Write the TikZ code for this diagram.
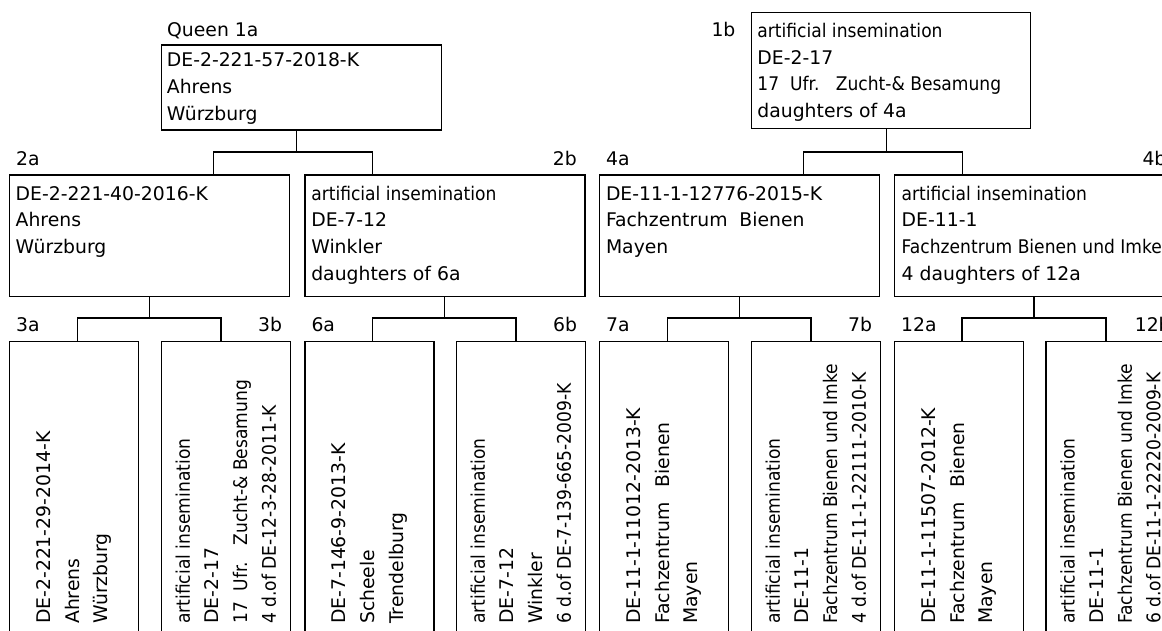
\documentclass[tikz,border=0pt]{standalone}
\usepackage{fontspec}
\setmainfont{DejaVu Sans}
\newfontfamily\cond[FakeStretch=0.91]{DejaVu Sans}
\usetikzlibrary{calc}
\newcommand\mystrut{\rule{0pt}{15pt}}
\tikzset{
  x=1pt, y=-1pt,
  box/.style={draw=black, line width=1.3pt, rectangle, inner sep=0pt, anchor=north west},
  wide/.style={box, minimum width=280pt, minimum height=121.4pt},
  narrow/.style={box, minimum width=129pt, minimum height=330pt},
  txt/.style={inner sep=0pt, align=left, anchor=north west, font=\fontsize{18.8pt}{26.6pt}\selectfont},
  rtxt/.style={inner sep=0pt, align=left, anchor=west, rotate=90, font=\fontsize{18.8pt}{28.6pt}\selectfont},
  lab/.style={inner sep=0pt, anchor=base west, font=\fontsize{18.8pt}{26.6pt}\selectfont},
  link/.style={line width=1.3pt, draw=black},
}
\begin{document}
\begin{tikzpicture}
\fill[white] (0,0) rectangle (1162,630);
\useasboundingbox (0,0) rectangle (1162,630);

% ---------- boxes ----------
\node[box, minimum width=280pt, minimum height=85pt] (b1a) at (160.7,44.3) {};
\node[box, minimum width=279.3pt, minimum height=116pt] (b1b) at (750.7,12) {};
\node[wide] (b2a) at (9,174.3) {};
\node[wide] (b2b) at (304.3,174.3) {};
\node[wide] (b4a) at (599,174.3) {};
\node[wide] (b4b) at (894,174.3) {};
\node[narrow] (b3a) at (9,341) {};
\node[narrow] (b3b) at (160.7,341) {};
\node[narrow] (b6a) at (304.3,341) {};
\node[narrow] (b6b) at (455.7,341) {};
\node[narrow] (b7a) at (599,341) {};
\node[narrow] (b7b) at (750.7,341) {};
\node[narrow] (b12a) at (894,341) {};
\node[narrow] (b12b) at (1045.3,341) {};

% ---------- connectors ----------
\coordinate (j1a) at (296.7,152);
\coordinate (j1b) at (886.7,152);
\coordinate (j2a) at (149.3,318);
\coordinate (j2b) at (444.3,318);
\coordinate (j4a) at (739.3,318);
\coordinate (j4b) at (1034,318);

\draw[link] (b1a.south -| j1a) -- (j1a);
\draw[link] ($(b2a.north west)+(204.3,0)$) |- (j1a) -| ($(b2b.north west)+(68.4,0)$);
\draw[link] (b1b.south -| j1b) -- (j1b);
\draw[link] ($(b4a.north west)+(204.7,0)$) |- (j1b) -| ($(b4b.north west)+(68.3,0)$);
\draw[link] (b2a.south -| j2a) -- (j2a);
\draw[link] ($(b3a.north west)+(68.7,0)$) |- (j2a) -| ($(b3b.north west)+(60.3,0)$);
\draw[link] (b2b.south -| j2b) -- (j2b);
\draw[link] ($(b6a.north west)+(68.4,0)$) |- (j2b) -| ($(b6b.north west)+(60.3,0)$);
\draw[link] (b4a.south -| j4a) -- (j4a);
\draw[link] ($(b7a.north west)+(68.3,0)$) |- (j4a) -| ($(b7b.north west)+(60.3,0)$);
\draw[link] (b4b.south -| j4b) -- (j4b);
\draw[link] ($(b12a.north west)+(68,0)$) |- (j4b) -| ($(b12b.north west)+(60.7,0)$);

% ---------- labels ----------
\node[lab] (l1a) at ($(b1a.north west)+(6.3,-7.6)$) {Queen 1a};
\node[lab] (l1b) at ($(b1b.north west)+(-39.4,24.7)$) {1b};
\node[lab] (l2a) at ($(b2a.north west)+(7,-8.6)$) {2a};
\node[lab] (l2b) at ($(b2b.north east)+(-33,-8.6)$) {2b};
\node[lab] (l4a) at ($(b4a.north west)+(7,-8.6)$) {4a};
\node[lab] (l4b) at ($(b4b.north east)+(-33,-8.6)$) {4b};
\node[lab] (l3a) at ($(b3a.north west)+(7,-9.3)$) {3a};
\node[lab] (l3b) at ($(b3b.north east)+(-33,-9.3)$) {3b};
\node[lab] (l6a) at ($(b6a.north west)+(7,-9.3)$) {6a};
\node[lab] (l6b) at ($(b6b.north east)+(-33,-9.3)$) {6b};
\node[lab] (l7a) at ($(b7a.north west)+(7,-9.3)$) {7a};
\node[lab] (l7b) at ($(b7b.north east)+(-33,-9.3)$) {7b};
\node[lab] (l12a) at ($(b12a.north west)+(7,-9.3)$) {12a};
\node[lab] (l12b) at ($(b12b.north east)+(-41,-9.3)$) {12b};

% ---------- horizontal texts ----------
\node[txt] (t1a) at ($(b1a.north west)+(6,7.4)$) {\mystrut DE-2-221-57-2018-K\\Ahrens\\Würzburg};
\node[txt] (t1b) at ($(b1b.north west)+(6.5,10.2)$) {\mystrut{\cond artificial insemination}\\DE-2-17\\{\cond 17\ \ Ufr.\ \ \ Zucht-\& Besamung}\\daughters of 4a};
\node[txt] (t2a) at ($(b2a.north west)+(6.5,10.7)$) {\mystrut DE-2-221-40-2016-K\\Ahrens\\Würzburg};
\node[txt] (t2b) at ($(b2b.north west)+(6.8,10.7)$) {\mystrut{\cond artificial insemination}\\DE-7-12\\Winkler\\daughters of 6a};
\node[txt] (t4a) at ($(b4a.north west)+(6.8,10.7)$) {\mystrut DE-11-1-12776-2015-K\\Fachzentrum\ \ Bienen\\Mayen};
\node[txt] (t4b) at ($(b4b.north west)+(7.5,10.7)$) {\mystrut{\cond artificial insemination}\\DE-11-1\\{\cond Fachzentrum Bienen und Imke}\\4 daughters of 12a};

% ---------- rotated texts ----------
\node[rtxt] (t3a) at (b3a.center |- 0,624) {DE-2-221-29-2014-K\\Ahrens\\Würzburg};
\node[rtxt] (t3b) at (b3b.center |- 0,624) {{\cond artificial insemination}\\DE-2-17\\{\cond 17\ \ Ufr.\ \ \ Zucht-\& Besamung}\\{\cond 4 d.of DE-12-3-28-2011-K}};
\node[rtxt] (t6a) at (b6a.center |- 0,624) {DE-7-146-9-2013-K\\Scheele\\Trendelburg};
\node[rtxt] (t6b) at (b6b.center |- 0,624) {{\cond artificial insemination}\\DE-7-12\\Winkler\\{\cond 6 d.of DE-7-139-665-2009-K}};
\node[rtxt] (t7a) at (b7a.center |- 0,624) {DE-11-1-11012-2013-K\\Fachzentrum\hspace{15pt}Bienen\\Mayen};
\node[rtxt] (t7b) at (b7b.center |- 0,624) {{\cond artificial insemination}\\DE-11-1\\{\cond Fachzentrum Bienen und Imke}\\{\cond 4 d.of DE-11-1-22111-2010-K}};
\node[rtxt] (t12a) at (b12a.center |- 0,624) {DE-11-1-11507-2012-K\\Fachzentrum\hspace{15pt}Bienen\\Mayen};
\node[rtxt] (t12b) at (b12b.center |- 0,624) {{\cond artificial insemination}\\DE-11-1\\{\cond Fachzentrum Bienen und Imke}\\{\cond 6 d.of DE-11-1-22220-2009-K}};
\end{tikzpicture}
\end{document}
